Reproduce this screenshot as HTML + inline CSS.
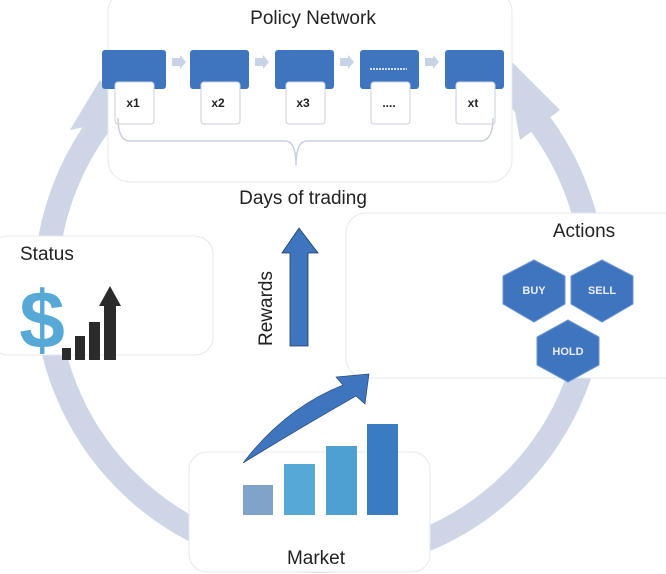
<!DOCTYPE html>
<html><head><style>body{margin:0;background:#fff}svg{display:block}text{font-family:"Liberation Sans",sans-serif}</style></head><body>
<svg width="666" height="574" viewBox="0 0 666 574" xmlns="http://www.w3.org/2000/svg">
<circle cx="320" cy="287" r="274" fill="none" stroke="#cdd5e6" stroke-width="24"/>
<polygon points="70,130 100,80 128,118" fill="#cdd5e6"/>
<polygon points="505,55 560,110 520,140" fill="#cdd5e6"/>
<rect x="108" y="-10" width="404" height="192" rx="22" fill="#fff" stroke="#e4e8f0"/>
<rect x="-10" y="236" width="223" height="119" rx="18" fill="#fff" stroke="#e4e8f0"/>
<rect x="346" y="213" width="340" height="165" rx="20" fill="#fff" stroke="#e4e8f0"/>
<rect x="189" y="452" width="241" height="120" rx="18" fill="#fff" stroke="#e4e8f0"/>
<text x="313" y="24" font-size="19" text-anchor="middle" fill="#222">Policy Network</text>
<g fill="#3f74bf">
<rect x="102" y="50" width="64" height="39" rx="3"/><rect x="190" y="50" width="59" height="39" rx="3"/>
<rect x="275" y="50" width="59" height="39" rx="3"/><rect x="360" y="50" width="59" height="39" rx="3"/>
<rect x="445" y="50" width="59" height="39" rx="3"/></g>
<g fill="#c9d3e6"><polygon points="172,58 180,58 180,55 186,62 180,69 180,66 172,66"/>
<polygon points="255,58 263,58 263,55 269,62 263,69 263,66 255,66"/>
<polygon points="340,58 348,58 348,55 354,62 348,69 348,66 340,66"/>
<polygon points="425,58 433,58 433,55 439,62 433,69 433,66 425,66"/></g>
<line x1="370" y1="69" x2="407" y2="69" stroke="#cfe0f5" stroke-width="2" stroke-dasharray="2 1"/>
<g fill="#fff" stroke="#c9d0dd"><rect x="115" y="82" width="39" height="42" rx="3"/><rect x="201" y="82" width="39" height="42" rx="3"/>
<rect x="286" y="82" width="39" height="42" rx="3"/><rect x="371" y="82" width="39" height="42" rx="3"/><rect x="456" y="82" width="39" height="42" rx="3"/></g>
<g font-size="12" font-weight="bold" fill="#222" text-anchor="middle"><text x="133" y="107">x1</text><text x="218" y="107">x2</text><text x="303" y="107">x3</text><text x="389" y="107">....</text><text x="473" y="107">xt</text></g>
<path d="M118,118 Q118,141 130,141 L285,141 Q296,141 296,165 Q296,141 307,141 L480,141 Q493,141 493,118" fill="none" stroke="#c9d0dd" stroke-width="1.5"/>
<text x="303" y="204" font-size="19" text-anchor="middle" fill="#222">Days of trading</text>
<text x="20" y="260" font-size="19" fill="#222">Status</text>
<text x="584" y="237" font-size="19" text-anchor="middle" fill="#222">Actions</text>
<text x="316" y="564" font-size="19" text-anchor="middle" fill="#222">Market</text>
<text font-size="19" fill="#222" transform="translate(272,346) rotate(-90)">Rewards</text>
<polygon points="290,346 308,346 308,253 318,253 299,228 282,253 290,253" fill="#3f74bf" stroke="#1d3a66" stroke-width="0.8"/>
<text x="42" y="348" font-size="82" font-weight="bold" fill="#56a9d6" text-anchor="middle">$</text>
<g fill="#2b2b2b"><rect x="62" y="348" width="9" height="12"/><rect x="75" y="336" width="10" height="24"/><rect x="89" y="322" width="11" height="38"/><rect x="104" y="303" width="12" height="57"/>
<polygon points="99,306 110,286 121,306"/></g>
<g fill="#3f74bf" stroke="#6b95d0"><polygon points="534,260 565,276 565,304 534,322 503,304 503,276"/>
<polygon points="602,260 633,276 633,304 602,322 571,304 571,276"/>
<polygon points="568,320 599,337 599,365 568,382 537,365 537,337"/></g>
<g font-size="11" font-weight="bold" fill="#e8eef8" text-anchor="middle"><text x="534" y="294">BUY</text><text x="602" y="294">SELL</text><text x="568" y="355">HOLD</text></g>
<rect x="243" y="485" width="30" height="30" fill="#7fa3c9"/>
<rect x="284" y="464" width="31" height="51" fill="#56a9d6"/>
<rect x="326" y="446" width="31" height="69" fill="#4ea0d2"/>
<rect x="367" y="424" width="31" height="91" fill="#3a7cc4"/>
<path d="M243,463 Q285,408 343,385 L336,377 L369,374 L365,404 L356,396 Q300,428 243,463 Z" fill="#3f74bf" stroke="#1d3a66" stroke-width="0.6"/>
</svg>
</body></html>
